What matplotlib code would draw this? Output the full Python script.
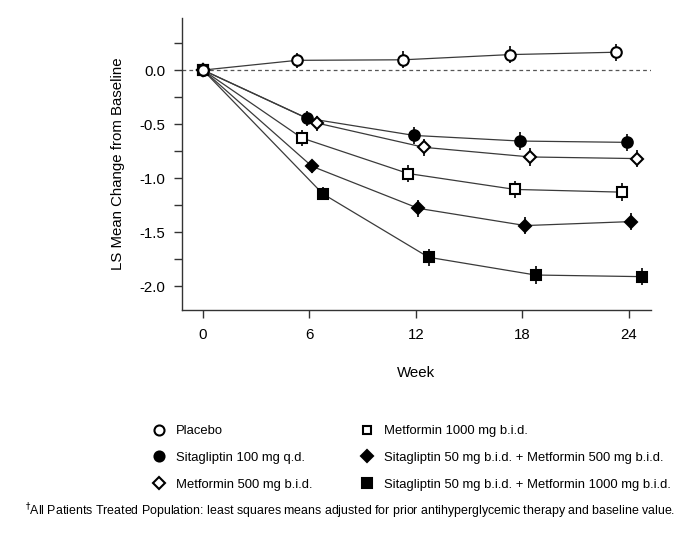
import matplotlib
matplotlib.use("Agg")
import matplotlib.pyplot as plt
from matplotlib.lines import Line2D
import numpy as np

plt.rcParams['font.family'] = ['Liberation Sans', 'DejaVu Sans']

# ---- data ----
labels = ["Placebo", "Sitagliptin 100 mg q.d.", "Metformin 500 mg b.i.d.",
          "Metformin 1000 mg b.i.d.", "Sitagliptin 50 mg b.i.d. + Metformin 500 mg b.i.d.",
          "Sitagliptin 50 mg b.i.d. + Metformin 1000 mg b.i.d."]

weeks_placebo = [0, 5.3, 11.3, 17.3, 23.3]
vals_placebo = [0.0, 0.09, 0.095, 0.143, 0.165]
se_placebo = [0.0, 0.07, 0.08, 0.08, 0.08]

weeks_sita100 = [0, 5.87, 11.9, 17.9, 23.9]
vals_sita100 = [0.0, -0.445, -0.604, -0.656, -0.668]
se_sita100 = [0.0, 0.07, 0.08, 0.08, 0.08]

weeks_met500 = [0, 6.44, 12.46, 18.46, 24.46]
vals_met500 = [0.0, -0.49, -0.714, -0.803, -0.818]
se_met500 = [0.0, 0.07, 0.08, 0.08, 0.08]

weeks_met1000 = [0, 5.58, 11.57, 17.59, 23.6]
vals_met1000 = [0.0, -0.628, -0.956, -1.103, -1.128]
se_met1000 = [0.0, 0.07, 0.08, 0.08, 0.085]

weeks_s50m500 = [0, 6.14, 12.15, 18.17, 24.16]
vals_s50m500 = [0.0, -0.889, -1.278, -1.437, -1.40]
se_s50m500 = [0.0, 0.06, 0.08, 0.08, 0.08]

weeks_s50m1000 = [0, 6.75, 12.72, 18.75, 24.76]
vals_s50m1000 = [0.0, -1.143, -1.73, -1.894, -1.909]
se_s50m1000 = [0.0, 0.06, 0.08, 0.08, 0.08]

xticks = [0, 6, 12, 18, 24]
yticks_major = [0.0, -0.5, -1.0, -1.5, -2.0]
yticks_minor = [0.25, -0.25, -0.75, -1.25, -1.75]

# ---- styles ----
styles = [
    dict(marker='o', mfc='white', ms=7.6),
    dict(marker='o', mfc='black', ms=7.6),
    dict(marker='D', mfc='white', ms=6.3),
    dict(marker='s', mfc='white', ms=6.8),
    dict(marker='D', mfc='black', ms=6.0),
    dict(marker='s', mfc='black', ms=7.6),
]

series = [
    (weeks_placebo, vals_placebo, se_placebo),
    (weeks_sita100, vals_sita100, se_sita100),
    (weeks_met500, vals_met500, se_met500),
    (weeks_met1000, vals_met1000, se_met1000),
    (weeks_s50m500, vals_s50m500, se_s50m500),
    (weeks_s50m1000, vals_s50m1000, se_s50m1000),
]

fig = plt.figure(figsize=(7.0, 5.35), dpi=100)
ax = fig.add_axes([181.7/700, 1-310.3/535, (651-181.7)/700, (310.3-17.7)/535])

ax.axhline(0, color='#555555', lw=0.9, ls=(0, (3, 2.5)), zorder=1)

# draw in reverse so placebo is on top
order = [5, 4, 3, 2, 1, 0]
for i in order:
    w, v, se = series[i]
    st = styles[i]
    ax.plot(w, v, color='#3a3a3a', lw=0.9, zorder=2)
    ax.errorbar(w[1:], v[1:], yerr=se[1:], fmt='none', ecolor='black',
                elinewidth=1.2, capsize=0, zorder=3)
    ax.plot(w, v, ls='none', marker=st['marker'], ms=st['ms'],
            mfc=st['mfc'], mec='black', mew=1.5, zorder=4 + (5 - i))

ax.set_xlim(-1.2, 25.26)
ax.set_ylim(-2.22, 0.484)
ax.set_xticks(xticks)
ax.set_xticklabels([str(t) for t in xticks])
ax.set_yticks(yticks_major)
ax.set_yticklabels([f"{t:.1f}" for t in yticks_major])
ax.set_yticks(yticks_minor, minor=True)

for s in ['top', 'right']:
    ax.spines[s].set_visible(False)
for s in ['left', 'bottom']:
    ax.spines[s].set_color('#333333')
    ax.spines[s].set_linewidth(1.0)

ax.tick_params(axis='both', which='both', direction='out', length=6, width=1.0,
               color='#333333', labelsize=10.8, pad=6)
ax.tick_params(axis='x', pad=7)

ax.set_xlabel("Week", fontsize=10.8, labelpad=17)
ax.set_ylabel("LS Mean Change from Baseline", fontsize=10.8, labelpad=10)

# legend
handles = [Line2D([], [], ls='none', marker=st['marker'], ms=st['ms'] * 0.95,
                  mfc=st['mfc'], mec='black', mew=1.5) for st in styles]
leg = fig.legend(handles, labels, ncol=2, loc='upper left',
                 bbox_to_anchor=(152/700, 1-425/535), frameon=False,
                 fontsize=9.4, handlelength=1.0, handletextpad=0.8,
                 labelspacing=1.12, columnspacing=3.75, borderpad=0, borderaxespad=0)

fig.text(25/700, 1-511/535,
         r"$^{\dagger}$All Patients Treated Population: least squares means adjusted for prior antihyperglycemic therapy and baseline value.",
         fontsize=8.9, va='center', ha='left')

fig.savefig("out.png", dpi=100)
